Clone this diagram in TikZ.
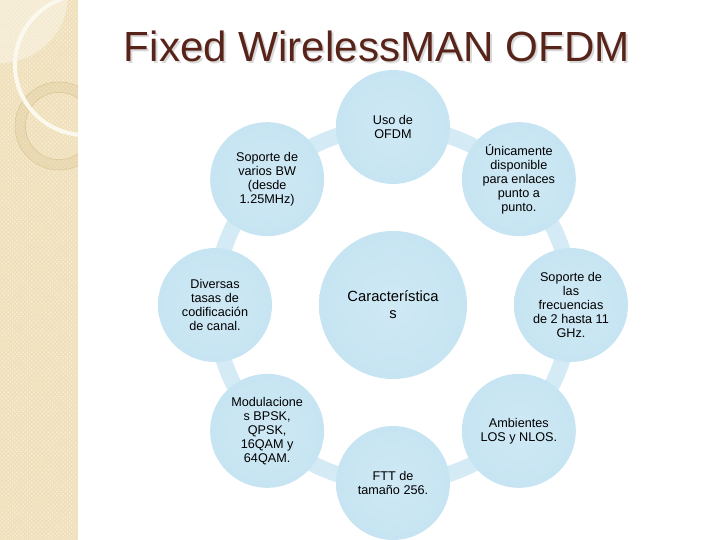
\documentclass[tikz,border=0pt]{standalone}
\usepackage{fontspec}
\setmainfont{Liberation Sans}
\usepackage{tikz}
\usetikzlibrary{patterns}
\definecolor{bubin}{RGB}{207,233,245}
\definecolor{bubout}{RGB}{178,216,234}
\definecolor{ringblue}{RGB}{212,235,245}
\definecolor{titlebrown}{RGB}{88,36,26}
\definecolor{stripbeige}{RGB}{240,225,188}
\definecolor{stripline}{RGB}{220,198,148}
\pgfdeclareradialshading{bubshade}{\pgfpoint{0bp}{0bp}}{color(0bp)=(bubin); color(25bp)=(bubin!70!bubout); color(50bp)=(bubout)}

\tikzset{
  bubble/.style={circle, minimum size=2.85cm, inner sep=0pt, shading=bubshade, align=center, font=\fontsize{9}{10}\selectfont},
  hub/.style={bubble, minimum size=3.7cm, font=\fontsize{10.5}{12}\selectfont},
  heading/.style={font=\fontsize{30}{36}\selectfont}
}

\begin{document}
\begin{tikzpicture}

% --- Slide frame ---

\def\R{4.45} % ring radius
\def\w{1.95} % strip width
\useasboundingbox (0,0) rectangle (18,13.5);

% Beige strip on the left
\fill[stripbeige] (0,0) rectangle (\w,13.5);
\fill[pattern=crosshatch dots, pattern color=white!55!stripbeige] (0,0) rectangle (\w,13.5);
\begin{scope}
  \clip (0,0) rectangle (\w,13.5);
  \fill[white, opacity=0.35] (0,13.625) circle (1.7);
  \fill[stripline, opacity=0.3, even odd rule] (1.475,10.35) circle (1.1) (1.475,10.35) circle (0.84);
  \draw[stripline, thin] (1.475,10.35) circle (1.1) (1.475,10.35) circle (0.84);
  \draw[white!75!stripbeige, line width=0.1cm] (2.125,11.875) circle (1.75);
\end{scope}

% Title with its shadow
\node[heading, text=gray!30] (titleshadow) at (9.475,12.28) {Fixed WirelessMAN OFDM};
\node[heading, text=titlebrown] (title) at (9.425,12.33) {Fixed WirelessMAN OFDM};

% --- Cycle of features ---

\coordinate (c) at (9.825,5.875);
\draw[ringblue, line width=0.4cm] (c) circle (\R);

% Centre
\node[hub] (carac) at (c) {Característica\\s};

% Outer bubbles
\node[bubble] (uso) at ([shift={(90:\R)}]c) {Uso de\\OFDM};
\node[bubble] (unica) at ([shift={(45:\R)}]c) {Únicamente\\disponible\\para enlaces\\punto a\\punto.};
\node[bubble] (frec) at ([shift={(0:\R)}]c) {Soporte de\\las\\frecuencias\\de 2 hasta 11\\GHz.};
\node[bubble] (amb) at ([shift={(-45:\R)}]c) {Ambientes\\LOS y NLOS.};
\node[bubble] (ftt) at ([shift={(-90:\R)}]c) {FTT de\\tamaño 256.};
\node[bubble] (modu) at ([shift={(-135:\R)}]c) {Modulacione\\s BPSK,\\QPSK,\\16QAM y\\64QAM.};
\node[bubble] (tasas) at ([shift={(180:\R)}]c) {Diversas\\tasas de\\codificación\\de canal.};
\node[bubble] (sopbw) at ([shift={(135:\R)}]c) {Soporte de\\varios BW\\(desde\\1.25MHz)};

\end{tikzpicture}
\end{document}
